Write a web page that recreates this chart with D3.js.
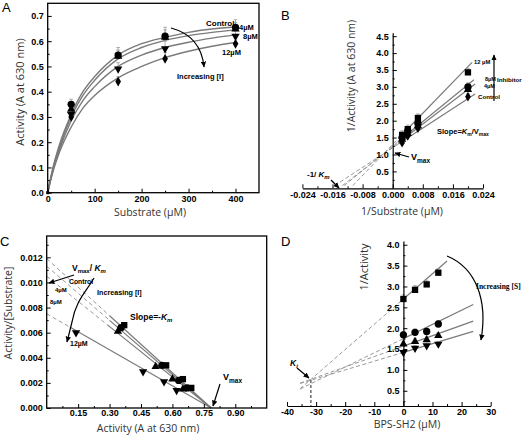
<!DOCTYPE html>
<html><head><meta charset="utf-8">
<script src="https://cdn.jsdelivr.net/npm/d3@7"></script>
<style>body{margin:0;background:#fff}svg{display:block}</style>
</head><body>
<svg id="c" width="528" height="435"></svg>
<script>
// ---------- DATA ----------
const seriesNames = ["Control","4µM","8µM","12µM"];
// Panel A: activity vs substrate
const substrate = [50,150,250,400];
const actA = [
  [0.35,0.545,0.62,0.655],
  [0.33,0.54,0.615,0.648],
  [0.31,0.49,0.57,0.62],
  [0.30,0.44,0.53,0.59]
];
const errA = [
  [0.02,0.03,0.035,0.03],
  [0.02,0.025,0.03,0.025],
  [0.02,0.025,0.03,0.02],
  [0.015,0.02,0.025,0.02]
];
const curveX = [0,10,25,50,75,100,150,200,250,300,350,400];
const curveA = [
  [0,0.09,0.19,0.31,0.40,0.46,0.545,0.59,0.615,0.635,0.648,0.656],
  [0,0.085,0.18,0.30,0.385,0.445,0.53,0.575,0.603,0.622,0.635,0.645],
  [0,0.08,0.17,0.285,0.365,0.42,0.50,0.545,0.575,0.596,0.612,0.625],
  [0,0.075,0.16,0.26,0.335,0.385,0.455,0.50,0.535,0.56,0.58,0.595]
];
const ticksAx = [0,100,200,300,400];
const ticksAy = [0,0.1,0.2,0.3,0.4,0.5,0.6,0.7];
// Panel B: Lineweaver-Burk
const invS = [0.0025,0.004,0.0067,0.02];
const invActB = [
  [1.35,1.55,1.78,2.71],
  [1.45,1.62,1.85,2.92],
  [1.50,1.70,1.92,3.00],
  [1.58,1.75,2.08,3.43]
];
const errB = [0.08,0.1,0.12,0.12];
const interceptB = [1.20,1.22,1.25,1.30];
const slopeB = [72.6,85.1,90.7,114.9];
const ticksBx = [-0.024,-0.016,-0.008,0,0.008,0.016,0.024];
const ticksBy = [0.5,1.0,1.5,2.0,2.5,3.0,3.5,4.0,4.5];
// Panel C: Eadie-Hofstee
const actC = [
  [0.37,0.57,0.65,0.69],
  [0.355,0.55,0.63,0.67],
  [0.34,0.52,0.60,0.65],
  [0.14,0.46,0.56,0.62]
];
const ratioC = [
  [0.0066,0.0034,0.0023,0.0016],
  [0.0064,0.0034,0.0022,0.0016],
  [0.0061,0.0033,0.0023,0.0015],
  [0.0060,0.0029,0.0021,0.0014]
];
const interceptC = [0.0119,0.0113,0.0105,0.0075];
const xInterceptC = 0.785;
const solidStartC = [0.30,0.30,0.29,0.11];
const ticksCx = [0.15,0.30,0.45,0.60,0.75,0.90];
const ticksCy = [0,0.002,0.004,0.006,0.008,0.010,0.012];
// Panel D: Dixon
const inhibitorConc = [0,4,8,12];
const invActD = [
  [2.70,2.92,3.05,3.33],
  [1.84,1.90,1.92,2.10],
  [1.62,1.68,1.72,1.82],
  [1.42,1.52,1.58,1.62]
];
const errD = [0.1,0.08,0.07,0.06];
const interceptD = [2.70,1.75,1.57,1.42];
const slopeD = [0.0606,0.034,0.025,0.021];
const endD = [15,24,24,24];
const Ki = [-31.8,0.76];
const ticksDx = [-40,-30,-20,-10,0,10,20,30];
const ticksDy = [0.5,1.0,1.5,2.0,2.5,3.0,3.5,4.0];

// ---------- SETUP ----------
const svg = d3.select("#c");
const defs = svg.append("defs");
defs.append("marker").attr("id","ah").attr("viewBox","0 0 10 10")
  .attr("refX",9).attr("refY",5).attr("markerWidth",5).attr("markerHeight",5)
  .attr("orient","auto").append("path").attr("d","M0,0.5L10,5L0,9.5z").attr("fill","#000");

const TICKFONT = "Arial, 'Liberation Sans', sans-serif";
const TITLEFONT = "'Open Sans', 'Noto Sans', sans-serif";
const GREY = "#7a7a7a";
const hy = s => s.replace("\u2212","-");
const mids = a => a.slice(1).map((v,i)=>(v+a[i])/2);

function sym(type, size, rot){ return {type, size, rot: rot||0}; }
const symCircle = sym(d3.symbolCircle,42);
const symSquare = sym(d3.symbolSquare,40);
const symTri = sym(d3.symbolTriangle,30);
const symTriDown = sym(d3.symbolTriangle,30,180);
const symDiamond = sym(d3.symbolDiamond,28);

function drawAxis(axisFn, scale, majors, minors, fmt, tx, ty, pad, keepDomain){
  const g = svg.append("g").attr("transform",`translate(${tx},${ty})`)
    .call(axisFn(scale).tickValues(majors).tickFormat(fmt).tickSizeInner(-4).tickSizeOuter(0).tickPadding(pad));
  if(!keepDomain) g.select(".domain").remove();
  else g.select(".domain").attr("stroke","#000").attr("stroke-width",1.2);
  g.selectAll("line").attr("stroke","#000").attr("stroke-width",1);
  g.selectAll("text").attr("font-family",TICKFONT).attr("font-weight","bold").attr("font-size",9).attr("fill","#000");
  const m = svg.append("g").attr("transform",`translate(${tx},${ty})`)
    .call(axisFn(scale).tickValues(minors).tickFormat("").tickSizeInner(-2).tickSizeOuter(0));
  m.select(".domain").remove();
  m.selectAll("line").attr("stroke","#000");
}
function points(x,y,xs,ys,s){
  xs.forEach((v,i)=>{
    svg.append("path").attr("d",d3.symbol().type(s.type).size(s.size)())
      .attr("transform",`translate(${x(v)},${y(ys[i])}) rotate(${s.rot})`).attr("fill","#000");
  });
}
function errBars(x,y,xs,ys,es){
  xs.forEach((v,i)=>{
    const px=x(v), y0=y(ys[i]), y1=y(ys[i]+es[i]);
    svg.append("line").attr("x1",px).attr("x2",px).attr("y1",y0).attr("y2",y1).attr("stroke","#999").attr("stroke-width",0.8);
    svg.append("line").attr("x1",px-1.8).attr("x2",px+1.8).attr("y1",y1).attr("y2",y1).attr("stroke","#999").attr("stroke-width",0.8);
  });
}
function text(t,x,y,opts){
  const o = Object.assign({size:8,weight:"bold",anchor:"start",family:TICKFONT,style:"normal"},opts||{});
  return svg.append("text").attr("x",x).attr("y",y).attr("font-size",o.size).attr("font-weight",o.weight)
    .attr("font-family",o.family).attr("font-style",o.style).attr("text-anchor",o.anchor).attr("fill","#000").text(t);
}
function arrow(d){
  svg.append("path").attr("d",d).attr("fill","none").attr("stroke","#000").attr("stroke-width",1.2).attr("marker-end","url(#ah)");
}
function title(t,x,y,rot,size){
  svg.append("text").attr("transform",`translate(${x},${y})${rot?" rotate(-90)":""}`).attr("text-anchor","middle")
    .attr("font-family",TITLEFONT).attr("font-size",size||11).attr("fill","#333").text(t);
}
function panelLetter(t,x,y){
  svg.append("text").attr("x",x).attr("y",y).attr("font-family",TICKFONT).attr("font-size",13).attr("fill","#000").text(t);
}

// ---------- PANEL A ----------
{
  const x = d3.scaleLinear().domain([0,450]).range([47.7,259]);
  const y = d3.scaleLinear().domain([0,0.75]).range([192.7,3.3]);
  const line = d3.line().x((d,i)=>x(curveX[i])).y(d=>y(d)).curve(d3.curveMonotoneX);
  curveA.forEach(c=>svg.append("path").attr("d",line(c)).attr("fill","none").attr("stroke",GREY).attr("stroke-width",1.4));
  const syms=[symCircle,symTri,symTriDown,symDiamond];
  actA.forEach((s,i)=>errBars(x,y,substrate,s,errA[i]));
  actA.forEach((s,i)=>points(x,y,substrate,s,syms[i]));
  svg.append("path").attr("d",d3.symbol().type(d3.symbolSquare).size(9)()).attr("transform",`translate(${x(0)},${y(0)})`);
  svg.append("rect").attr("x",47.7).attr("y",3.3).attr("width",259-47.7).attr("height",192.7-3.3).attr("fill","none").attr("stroke","#000").attr("stroke-width",1.3);
  drawAxis(d3.axisBottom,x,ticksAx,mids(ticksAx).concat([450-0]).slice(0,4),d3.format("d"),0,192.7,3);
  drawAxis(d3.axisLeft,y,ticksAy,mids(ticksAy),d3.format(".1f"),47.7,0,4);
  title("Activity (A at 630 nm)",24,92,true);
  title("Substrate (µM)",150,216,false,10.5);
  panelLetter("A",2,12);
  text("Control",206,26,{size:8});
  text("4µM",239,30,{size:7.5});
  text("8µM",243,39,{size:7.5});
  text("12µM",222,55,{size:7.5});
  text("Increasing [I]",177,79,{size:7.5});
  arrow("M171,28 Q201,36 204,67");
}

// ---------- PANEL B ----------
{
  const x = d3.scaleLinear().domain([-0.024,0.024]).range([302.4,483]);
  const y = d3.scaleLinear().domain([0,4.6]).range([188.3,32.8]);
  const ends=[0.0219,0.0219,0.0216,0.0211];
  interceptB.forEach((a,i)=>{
    const b=slopeB[i];
    const x0=(0.08-a)/b, xs=0.0015, x1=ends[i];
    svg.append("line").attr("x1",x(x0)).attr("y1",y(a+b*x0)).attr("x2",x(xs)).attr("y2",y(a+b*xs))
      .attr("stroke","#999").attr("stroke-width",1).attr("stroke-dasharray","4,2.5");
    svg.append("line").attr("x1",x(xs)).attr("y1",y(a+b*xs)).attr("x2",x(x1)).attr("y2",y(a+b*x1))
      .attr("stroke",GREY).attr("stroke-width",1.2);
  });
  const syms=[symDiamond,symTri,symCircle,symSquare];
  invActB.forEach((s,i)=>errBars(x,y,invS,s,invS.map(()=>errB[i])));
  invActB.forEach((s,i)=>points(x,y,invS,s,syms[i]));
  drawAxis(d3.axisBottom,x,ticksBx,mids(ticksBx),d=>hy(d3.format(".3f")(d)),0,188.3,3,true);
  drawAxis(d3.axisLeft,y,ticksBy,mids(ticksBy).concat([0.25]),d3.format(".1f"),x(0),0,4,true);
  title("1/Activity (A at 630 nm)",355,76,true,10.5);
  title("1/Substrate (µM)",402,215,false,10.5);
  panelLetter("B",281,20);
  text("12 µM",474,64,{size:5.8});
  text("8µM",485,81,{size:5.5});
  text("4µM",484,88,{size:5.5});
  text("Control",478,99,{size:6.2});
  text("Inhibitor",497,82,{size:6.2});
  arrow("M494,101 L494,55");
  const s1=text("Slope=",437,134,{size:7.5});
  s1.append("tspan").attr("font-style","italic").text("K");
  s1.append("tspan").attr("font-size",5).attr("dy",2).text("m");
  s1.append("tspan").attr("dy",-2).text("/V");
  s1.append("tspan").attr("font-size",5).attr("dy",2).text("max");
  const v=text("V",411,160,{size:9});
  v.append("tspan").attr("font-size",6.5).attr("dy",2.5).text("max");
  svg.append("line").attr("x1",409).attr("y1",157).attr("x2",395).attr("y2",153).attr("stroke","#000").attr("stroke-width",1.2).attr("marker-end","url(#ah)");
  const k=text("-1/ ",307,177,{size:8});
  k.append("tspan").attr("font-style","italic").text("K");
  k.append("tspan").attr("font-size",6).attr("font-style","italic").attr("dy",2).text("m");
  arrow("M331,180 L339,188");
}

// ---------- PANEL C ----------
{
  const x = d3.scaleLinear().domain([0,1.05]).range([46.7,266.7]);
  const y = d3.scaleLinear().domain([0,0.0137]).range([408,236]);
  interceptC.forEach((a,i)=>{
    const b=-a/xInterceptC, xs=solidStartC[i];
    svg.append("line").attr("x1",x(0)).attr("y1",y(a)).attr("x2",x(xs)).attr("y2",y(a+b*xs))
      .attr("stroke","#999").attr("stroke-width",1).attr("stroke-dasharray","4,3");
    svg.append("line").attr("x1",x(xs)).attr("y1",y(a+b*xs)).attr("x2",x(xInterceptC)).attr("y2",y(0))
      .attr("stroke",GREY).attr("stroke-width",1.2);
  });
  const syms=[symSquare,symCircle,symTri,symTriDown];
  actC.forEach((s,i)=>points(x,y,s,ratioC[i],syms[i]));
  svg.append("rect").attr("x",46.7).attr("y",236).attr("width",220).attr("height",172).attr("fill","none").attr("stroke","#000").attr("stroke-width",1.3);
  drawAxis(d3.axisBottom,x,ticksCx,[0.075].concat(mids(ticksCx),[0.975]),d3.format(".2f"),0,408,2);
  drawAxis(d3.axisLeft,y,ticksCy,mids(ticksCy).concat([0.013]),d3.format(".3f"),46.7,0,4);
  title("Activity/[Substrate]",12,313,true,10.5);
  title("Activity (A at 630 nm)",148,432,false,10.5);
  panelLetter("C",0,246);
  const vk=text("V",72,271,{size:8.5});
  vk.append("tspan").attr("font-size",6).attr("dy",2).text("max");
  vk.append("tspan").attr("dy",-2).text("/ ");
  vk.append("tspan").attr("font-style","italic").text("K");
  vk.append("tspan").attr("font-style","italic").attr("font-size",6).attr("dy",2).text("m");
  arrow("M74,275 L49,283");
  text("Control",69,284,{size:6.8});
  text("4µM",55,292,{size:6});
  text("8µM",50,304,{size:6});
  text("12µM",70,346,{size:7});
  text("Increasing [I]",97,295,{size:7.2});
  arrow("M94,278 C86,292 76,300 72,322 L67,342");
  const sl=text("Slope=-",130,320,{size:8.5});
  sl.append("tspan").attr("font-style","italic").text("K");
  sl.append("tspan").attr("font-style","italic").attr("font-size",6).attr("dy",2).text("m");
  const vm=text("V",223,380,{size:9});
  vm.append("tspan").attr("font-size",6.5).attr("dy",2.5).text("max");
  arrow("M220,384 L213,406");
}

// ---------- PANEL D ----------
{
  const x = d3.scaleLinear().domain([-40,30]).range([287,490.7]);
  const y = d3.scaleLinear().domain([0.135,4.09]).range([406,241]);
  interceptD.forEach((a,i)=>{
    const b=slopeD[i], x0=-35.5;
    svg.append("line").attr("x1",x(x0)).attr("y1",y(a+b*x0)).attr("x2",x(0)).attr("y2",y(a))
      .attr("stroke","#999").attr("stroke-width",1).attr("stroke-dasharray","4,2.5");
    svg.append("line").attr("x1",x(0)).attr("y1",y(a)).attr("x2",x(endD[i])).attr("y2",y(a+b*endD[i]))
      .attr("stroke",GREY).attr("stroke-width",1.2);
  });
  svg.append("line").attr("x1",x(Ki[0])).attr("x2",x(Ki[0])).attr("y1",y(Ki[1])).attr("y2",y(0.135))
    .attr("stroke","#555").attr("stroke-width",1.3).attr("stroke-dasharray","3,2");
  const syms=[symSquare,symCircle,symTri,symTriDown];
  invActD.forEach((s,i)=>errBars(x,y,inhibitorConc,s,inhibitorConc.map(()=>errD[i])));
  invActD.forEach((s,i)=>points(x,y,inhibitorConc,s,syms[i]));
  drawAxis(d3.axisBottom,x,ticksDx,mids(ticksDx),d=>hy(d3.format("d")(d)),0,406,3,true);
  drawAxis(d3.axisLeft,y,ticksDy,mids(ticksDy).concat([0.25]),d3.format(".1f"),x(0),0,4,true);
  title("1/Activity",368,267,true);
  title("BPS-SH2 (µM)",407,428,false,10.5);
  panelLetter("D",281,246);
  text("Increasing [S]",476,289,{size:7.5,family:"'Liberation Serif', 'DejaVu Serif', serif"});
  arrow("M447,256 C476,268 488,300 481,340");
  const ki=text("K",290,366,{size:8.5,style:"italic"});
  ki.append("tspan").attr("font-size",6).attr("dy",2).text("i");
  arrow("M297,368 L309,378");
}
</script>
</body></html>
